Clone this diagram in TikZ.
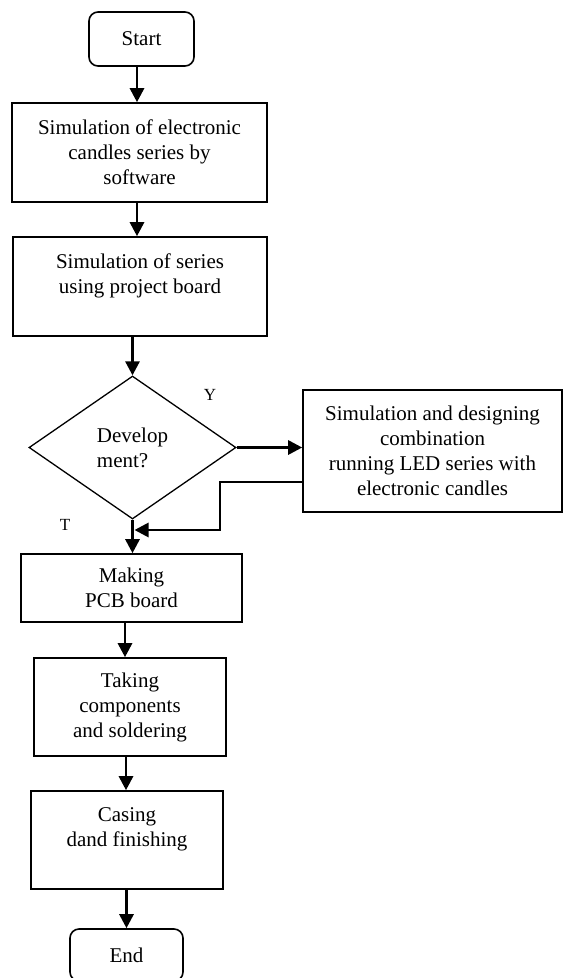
\documentclass[tikz,border=0pt]{standalone}
\usepackage{fontspec}
\setmainfont{Liberation Serif}
\usetikzlibrary{arrows.meta,shapes.geometric}

\begin{document}
\begin{tikzpicture}[x=1pt, y=-1pt,
    font=\fontsize{21}{25}\selectfont,
    box/.style={rectangle, draw, line width=1.6pt, inner sep=0pt, align=center},
    term/.style={box, rounded corners=9pt},
    lbl/.style={font=\fontsize{17}{20}\selectfont},
    arr/.style={draw, line width=2.8pt, -{Triangle[length=14pt,width=14pt]}}]
    \useasboundingbox (0,0) rectangle (563,978);
    \node(start) [term, minimum width=105pt, minimum height=54pt] at (141.5,39) {Start};
    \node(sim1) [box, minimum width=255pt, minimum height=99pt] at (139.5,152.5) {Simulation of electronic\\candles series by\\software};
    \node(sim2) [box, minimum width=254pt, minimum height=99pt] at (140,286.5) {Simulation of series\\using project board\\\mbox{}};
    \node(dev) [diamond, draw, line width=1.3pt, inner sep=0pt, minimum width=207pt, minimum height=143pt, align=left] at (132.5,447.5) {Develop\\ment?};
    \node(sim3) [box, minimum width=259pt, minimum height=122pt] at (432.5,451) {Simulation and designing\\combination\\running LED series with\\electronic candles};
    \node(making) [box, minimum width=221pt, minimum height=68pt] at (131.5,588) {Making\\PCB board};
    \node(taking) [box, minimum width=192pt, minimum height=98pt] at (130,707) {Taking\\components\\and soldering};
    \node(casing) [box, minimum width=192pt, minimum height=98pt] at (127,840) {Casing\\dand finishing\\\mbox{}};
    \node(end) [term, minimum width=113pt, minimum height=52pt] at (126.5,955) {End};

    % branch labels
    \node(yes) [lbl] at (210,395) {Y};
    \node(no) [lbl] at (65,525) {T};

    \coordinate(back) at (220,530);

    \draw[arr] ([xshift=-4.5pt]start.south) -- ([xshift=-4.5pt]start.south |- sim1.north);
    \draw[arr] ([xshift=-2.5pt]sim1.south) -- ([xshift=-2.5pt]sim1.south |- sim2.north);
    \draw[arr] (sim2.south -| dev.north) -- (dev.north);
    \draw[arr] (dev.east) -- (dev.east -| sim3.west);
    \draw[arr] ([yshift=-31pt]sim3.west) -| (back) -- ([xshift=2pt]back -| dev.south);
    \draw[arr] (dev.south) -- (dev.south |- making.north);
    \draw[arr] ([xshift=-6.5pt]making.south) -- ([xshift=-6.5pt]making.south |- taking.north);
    \draw[arr] ([xshift=-4pt]taking.south) -- ([xshift=-4pt]taking.south |- casing.north);
    \draw[arr] (casing.south -| end.north) -- (end.north);
\end{tikzpicture}
\end{document}
